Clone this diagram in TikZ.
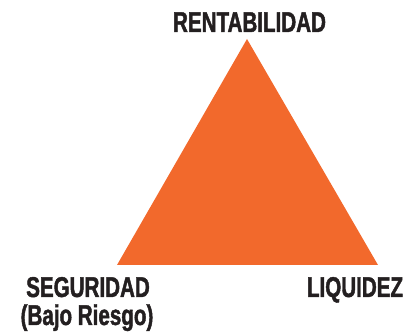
\documentclass[tikz,border=0pt]{standalone}
\usepackage{fontspec}
\setmainfont{Liberation Sans}[FakeStretch=0.72,BoldFont={* Bold},BoldFeatures={FakeBold=1.5}]
\definecolor{triorange}{HTML}{F2692C}
\definecolor{txtdark}{HTML}{231F20}
\begin{document}
\begin{tikzpicture}[x=1pt,y=-1pt,
  lbl/.style={font=\bfseries\fontsize{28.6}{30}\selectfont, text=txtdark, inner sep=0pt, anchor=base}]
\useasboundingbox (0,0) rectangle (408,334);
\coordinate (top) at (247,39);
\coordinate (bl) at (117,265);
\coordinate (br) at (378,265);
\fill[triorange] (top) -- (bl) -- (br) -- cycle;
\node[lbl] (rent) at (249.5,32) {RENTABILIDAD};
\node[lbl] (seg) at (88,297) {SEGURIDAD};
\node[lbl] (bajo) at (87,325) {(Bajo Riesgo)};
\node[lbl] (liq) at (355,297) {LIQUIDEZ};
\end{tikzpicture}
\end{document}
